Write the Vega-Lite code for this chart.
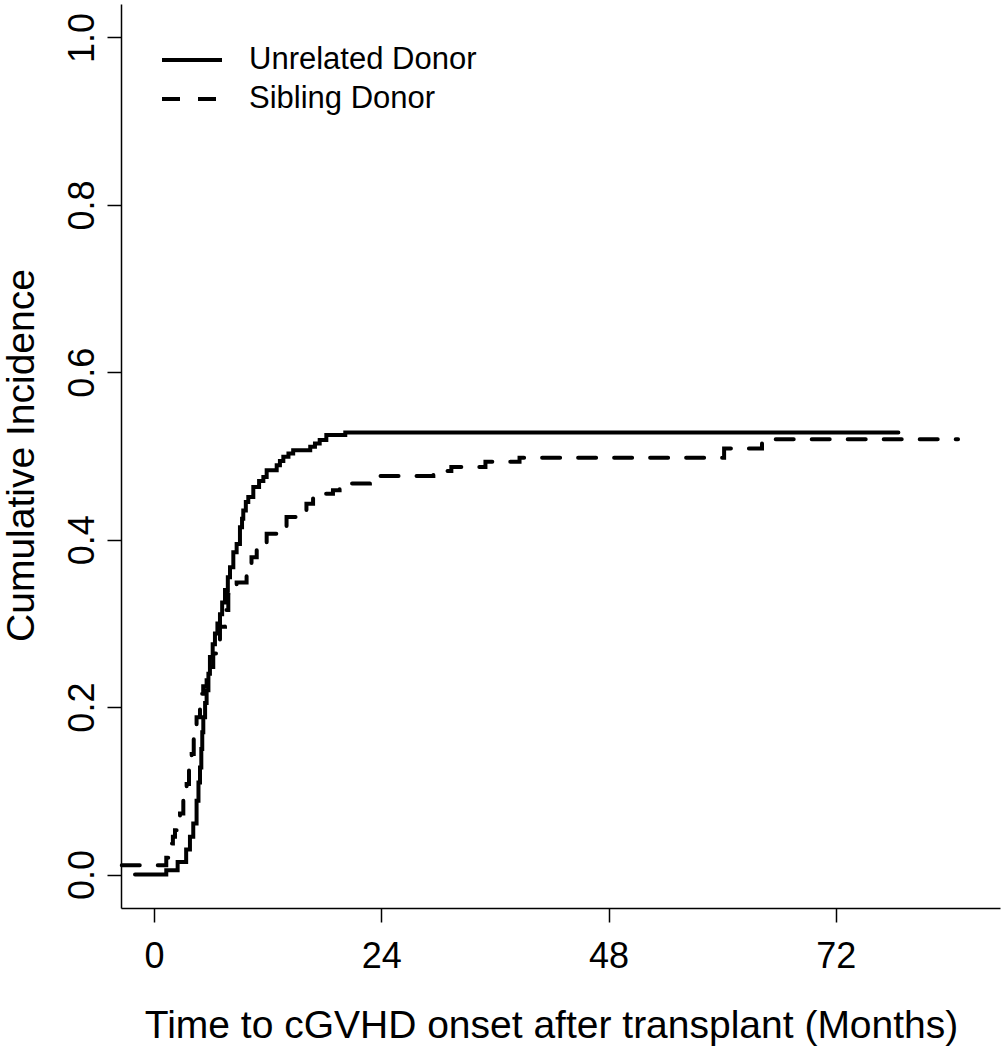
{
  "$schema": "https://vega.github.io/schema/vega-lite/v6.json",
  "width": 879,
  "height": 904,
  "autosize": {"type": "none"},
  "padding": {"left": 121, "top": 4, "right": 3, "bottom": 142},
  "background": "white",
  "config": {
    "view": {"stroke": null},
    "font": "Liberation Sans",
    "axis": {"domainColor": "black", "tickColor": "black", "labelColor": "black", "titleColor": "black", "grid": false, "domainWidth": 1.5, "tickWidth": 1.5, "labelFont": "Liberation Sans", "titleFont": "Liberation Sans", "titleFontWeight": "normal"}
  },
  "data": {
    "values": [
      {"t": -2.0, "v": 0.0, "group": "Unrelated Donor"},
      {"t": 1.3, "v": 0.005, "group": "Unrelated Donor"},
      {"t": 2.5, "v": 0.015, "group": "Unrelated Donor"},
      {"t": 3.4, "v": 0.03, "group": "Unrelated Donor"},
      {"t": 3.8, "v": 0.045, "group": "Unrelated Donor"},
      {"t": 4.15, "v": 0.061, "group": "Unrelated Donor"},
      {"t": 4.5, "v": 0.088, "group": "Unrelated Donor"},
      {"t": 4.7, "v": 0.11, "group": "Unrelated Donor"},
      {"t": 4.86, "v": 0.128, "group": "Unrelated Donor"},
      {"t": 5.0, "v": 0.15, "group": "Unrelated Donor"},
      {"t": 5.1, "v": 0.17, "group": "Unrelated Donor"},
      {"t": 5.21, "v": 0.188, "group": "Unrelated Donor"},
      {"t": 5.4, "v": 0.205, "group": "Unrelated Donor"},
      {"t": 5.56, "v": 0.22, "group": "Unrelated Donor"},
      {"t": 5.75, "v": 0.24, "group": "Unrelated Donor"},
      {"t": 5.91, "v": 0.26, "group": "Unrelated Donor"},
      {"t": 6.2, "v": 0.275, "group": "Unrelated Donor"},
      {"t": 6.44, "v": 0.288, "group": "Unrelated Donor"},
      {"t": 6.7, "v": 0.3, "group": "Unrelated Donor"},
      {"t": 6.97, "v": 0.311, "group": "Unrelated Donor"},
      {"t": 7.2, "v": 0.325, "group": "Unrelated Donor"},
      {"t": 7.5, "v": 0.34, "group": "Unrelated Donor"},
      {"t": 7.8, "v": 0.355, "group": "Unrelated Donor"},
      {"t": 8.03, "v": 0.367, "group": "Unrelated Donor"},
      {"t": 8.38, "v": 0.385, "group": "Unrelated Donor"},
      {"t": 8.73, "v": 0.395, "group": "Unrelated Donor"},
      {"t": 9.08, "v": 0.415, "group": "Unrelated Donor"},
      {"t": 9.3, "v": 0.425, "group": "Unrelated Donor"},
      {"t": 9.43, "v": 0.435, "group": "Unrelated Donor"},
      {"t": 9.7, "v": 0.445, "group": "Unrelated Donor"},
      {"t": 9.96, "v": 0.451, "group": "Unrelated Donor"},
      {"t": 10.49, "v": 0.463, "group": "Unrelated Donor"},
      {"t": 11.1, "v": 0.47, "group": "Unrelated Donor"},
      {"t": 11.55, "v": 0.475, "group": "Unrelated Donor"},
      {"t": 11.9, "v": 0.483, "group": "Unrelated Donor"},
      {"t": 12.96, "v": 0.489, "group": "Unrelated Donor"},
      {"t": 13.3, "v": 0.494, "group": "Unrelated Donor"},
      {"t": 13.66, "v": 0.499, "group": "Unrelated Donor"},
      {"t": 14.2, "v": 0.503, "group": "Unrelated Donor"},
      {"t": 14.7, "v": 0.507, "group": "Unrelated Donor"},
      {"t": 16.5, "v": 0.511, "group": "Unrelated Donor"},
      {"t": 17.0, "v": 0.515, "group": "Unrelated Donor"},
      {"t": 17.5, "v": 0.519, "group": "Unrelated Donor"},
      {"t": 18.2, "v": 0.525, "group": "Unrelated Donor"},
      {"t": 20.2, "v": 0.528, "group": "Unrelated Donor"},
      {"t": 78.6, "v": 0.528, "group": "Unrelated Donor"},
      {"t": -3.4, "v": 0.011, "group": "Sibling Donor"},
      {"t": 1.3, "v": 0.02, "group": "Sibling Donor"},
      {"t": 1.69, "v": 0.037, "group": "Sibling Donor"},
      {"t": 2.0, "v": 0.045, "group": "Sibling Donor"},
      {"t": 2.22, "v": 0.053, "group": "Sibling Donor"},
      {"t": 2.5, "v": 0.063, "group": "Sibling Donor"},
      {"t": 2.75, "v": 0.073, "group": "Sibling Donor"},
      {"t": 3.1, "v": 0.09, "group": "Sibling Donor"},
      {"t": 3.45, "v": 0.108, "group": "Sibling Donor"},
      {"t": 3.7, "v": 0.125, "group": "Sibling Donor"},
      {"t": 3.98, "v": 0.144, "group": "Sibling Donor"},
      {"t": 4.2, "v": 0.165, "group": "Sibling Donor"},
      {"t": 4.5, "v": 0.188, "group": "Sibling Donor"},
      {"t": 4.86, "v": 0.216, "group": "Sibling Donor"},
      {"t": 5.2, "v": 0.225, "group": "Sibling Donor"},
      {"t": 5.56, "v": 0.232, "group": "Sibling Donor"},
      {"t": 5.9, "v": 0.248, "group": "Sibling Donor"},
      {"t": 6.26, "v": 0.264, "group": "Sibling Donor"},
      {"t": 6.6, "v": 0.28, "group": "Sibling Donor"},
      {"t": 6.97, "v": 0.296, "group": "Sibling Donor"},
      {"t": 7.5, "v": 0.316, "group": "Sibling Donor"},
      {"t": 7.85, "v": 0.335, "group": "Sibling Donor"},
      {"t": 8.73, "v": 0.349, "group": "Sibling Donor"},
      {"t": 9.78, "v": 0.359, "group": "Sibling Donor"},
      {"t": 10.3, "v": 0.379, "group": "Sibling Donor"},
      {"t": 10.85, "v": 0.391, "group": "Sibling Donor"},
      {"t": 11.9, "v": 0.407, "group": "Sibling Donor"},
      {"t": 13.3, "v": 0.409, "group": "Sibling Donor"},
      {"t": 14.0, "v": 0.427, "group": "Sibling Donor"},
      {"t": 15.07, "v": 0.433, "group": "Sibling Donor"},
      {"t": 16.1, "v": 0.443, "group": "Sibling Donor"},
      {"t": 16.8, "v": 0.455, "group": "Sibling Donor"},
      {"t": 18.9, "v": 0.459, "group": "Sibling Donor"},
      {"t": 19.6, "v": 0.467, "group": "Sibling Donor"},
      {"t": 22.8, "v": 0.473, "group": "Sibling Donor"},
      {"t": 23.5, "v": 0.476, "group": "Sibling Donor"},
      {"t": 29.5, "v": 0.482, "group": "Sibling Donor"},
      {"t": 31.4, "v": 0.487, "group": "Sibling Donor"},
      {"t": 35.0, "v": 0.493, "group": "Sibling Donor"},
      {"t": 38.6, "v": 0.498, "group": "Sibling Donor"},
      {"t": 60.2, "v": 0.509, "group": "Sibling Donor"},
      {"t": 64.2, "v": 0.52, "group": "Sibling Donor"},
      {"t": 84.9, "v": 0.52, "group": "Sibling Donor"}
    ]
  },
  "mark": {"type": "line", "interpolate": "step-after", "color": "black", "strokeWidth": 4, "strokeCap": "round"},
  "encoding": {
    "x": {
      "field": "t", "type": "quantitative",
      "scale": {"domain": [-3.48, 89.33], "nice": false, "zero": false},
      "axis": {"values": [0, 24, 48, 72], "tickSize": 14, "labelFontSize": 36, "labelPadding": 17, "labelFlush": false, "labelOverlap": false,
        "title": "Time to cGVHD onset after transplant (Months)", "titleFontSize": 39, "titleBaseline": "alphabetic", "titleX": 430, "titleY": 129, "titleAlign": "center", "titleAnchor": null}
    },
    "y": {
      "field": "v", "type": "quantitative",
      "scale": {"domain": [-0.04, 1.04], "nice": false, "zero": false},
      "axis": {"values": [0, 0.2, 0.4, 0.6, 0.8, 1.0], "format": ".1f", "tickSize": 14, "labelFontSize": 36, "labelPadding": 14, "labelAngle": 270, "labelAlign": "center", "labelBaseline": "alphabetic", "labelFlush": false, "labelOverlap": false,
        "title": "Cumulative Incidence", "titleFontSize": 39, "titleAngle": 270, "titleBaseline": "alphabetic", "titleAlign": "center", "titleX": -88, "titleY": 451, "titleAnchor": null}
    },
    "strokeDash": {
      "field": "group", "type": "nominal",
      "scale": {"domain": ["Unrelated Donor", "Sibling Donor"], "range": [[1, 0], [18, 18]]},
      "legend": {"orient": "none", "legendX": 54, "legendY": 39, "title": null, "symbolType": "M-2,0H2", "symbolSize": 900, "symbolStrokeWidth": 4, "symbolStrokeColor": "black", "labelFontSize": 31, "labelFont": "Liberation Sans", "labelColor": "black", "labelLimit": 0, "padding": 0, "labelOffset": 40, "rowPadding": 7}
    },
    "detail": {"field": "group"}
  }
}
